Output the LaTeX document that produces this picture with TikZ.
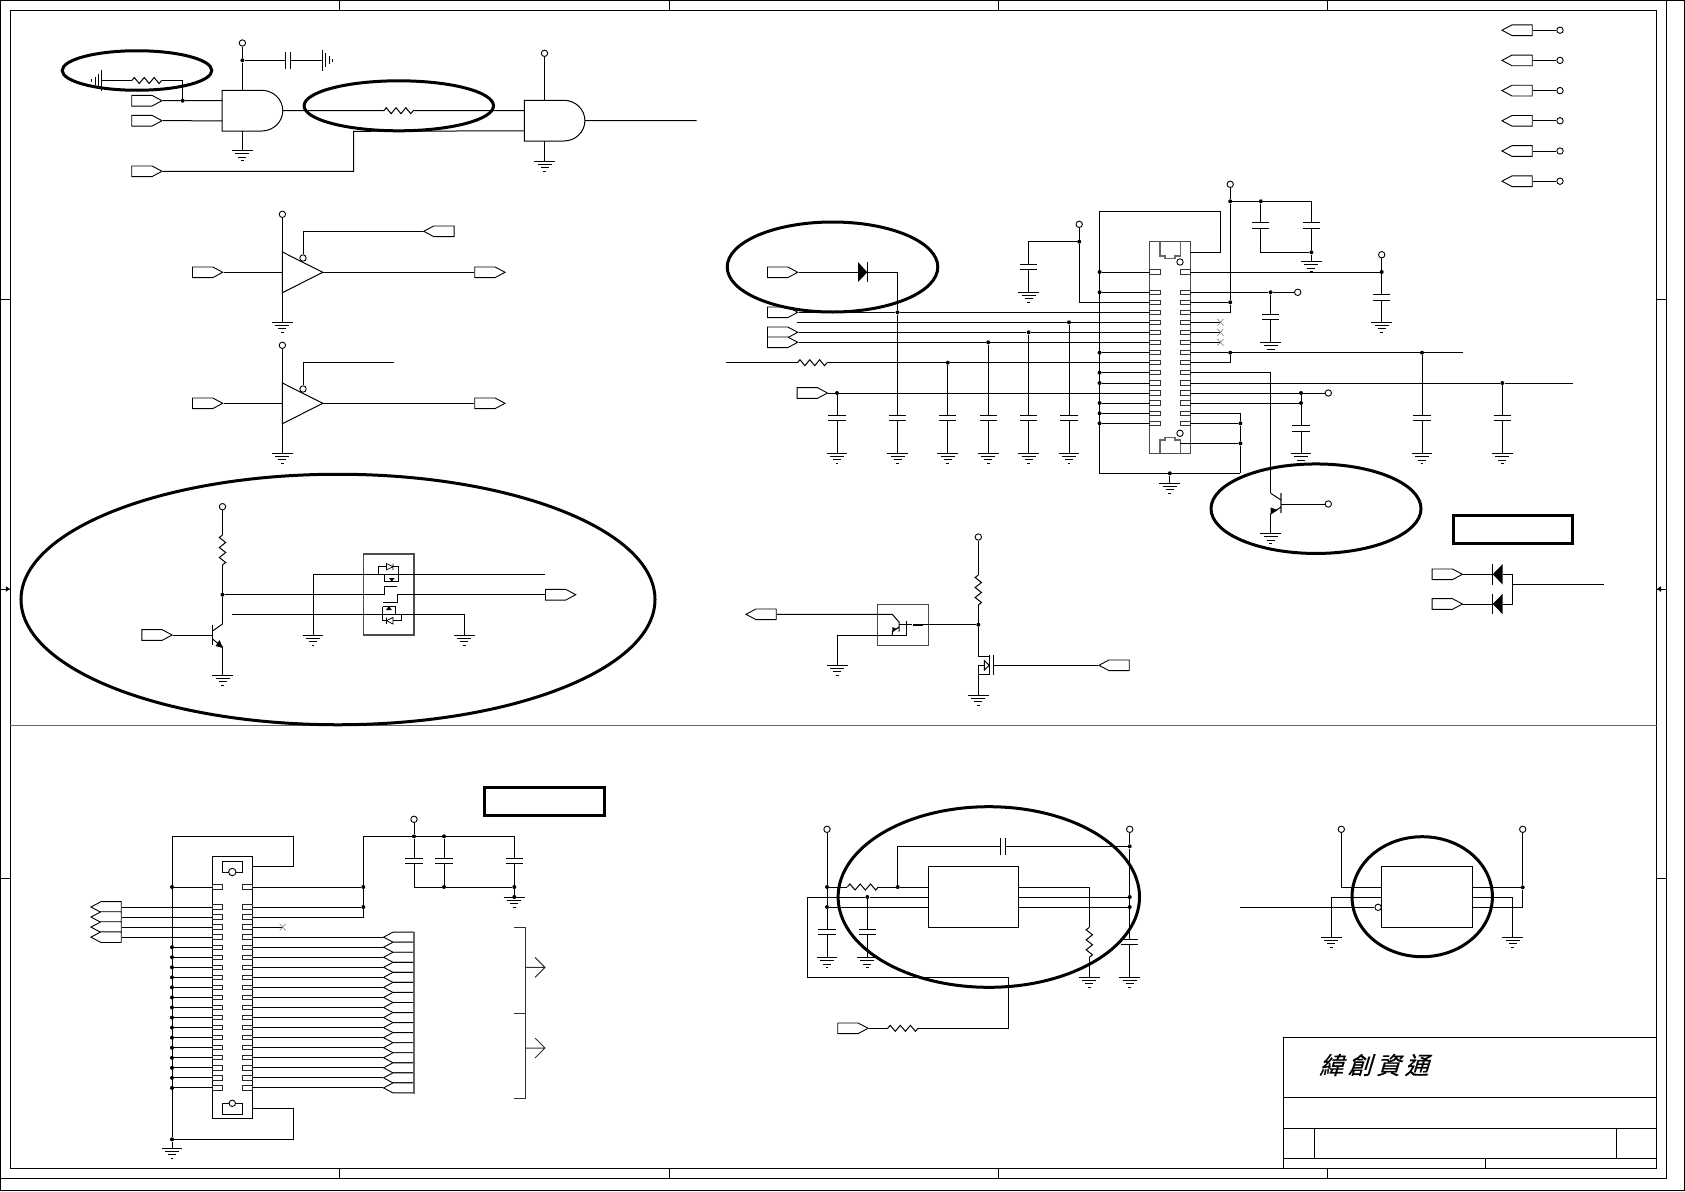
\documentclass[tikz,border=0pt]{standalone}
\usepackage{fontspec}
\newfontfamily\cjkfont[FakeSlant=0.3,FakeBold=0.5]{Noto Sans CJK TC}
\usetikzlibrary{calc,shapes.symbols,shapes.geometric}
\tikzset{
  wire/.style={line width=1pt,black,line join=miter},
  grayw/.style={line width=1.1pt,black!60},
  ring/.style={draw,ellipse,line width=3pt,inner sep=0pt,black},
  heavybox/.style={draw,line width=3pt,inner sep=0pt,black},
  plainbox/.style={draw,line width=1pt,inner sep=0pt,black},
  graybox/.style={draw,line width=1.1pt,inner sep=0pt,black!70},
  jdot/.style={circle,fill=black,inner sep=0pt,minimum size=4pt},
  vcc/.style={circle,draw,line width=0.9pt,fill=white,inner sep=0pt,minimum size=6.4pt},
  portr/.style={signal,signal to=east,signal from=nowhere,draw,line width=0.9pt,fill=white,
     minimum width=30.3pt,minimum height=10.7pt,inner sep=0pt,signal pointer angle=56,anchor=west},
  portl/.style={signal,signal to=west,signal from=nowhere,draw,line width=0.9pt,fill=white,
     minimum width=30.3pt,minimum height=10.7pt,inner sep=0pt,signal pointer angle=56,anchor=east},
}
% symbols
\newcommand{\sGnd}[3]{\coordinate (#1) at (#2,#3);
  \begin{scope}[shift={(#2,#3)}]\draw[wire] (-10.4,0)--(10.4,0) (-7,3)--(7,3) (-4,6.5)--(4,6.5) (-1.4,10)--(1.4,10);\end{scope}}
\newcommand{\sGndSide}[3]{\coordinate (#1) at (#2,#3);
  \begin{scope}[shift={(#2,#3)}]\draw[wire] (0,-10.4)--(0,10.4);\draw[line width=0.8pt] (#1e,-7)--(#1e,7);\end{scope}}
\newcommand{\sCapV}[4]{\coordinate (#1-t) at (#2,#3);\coordinate (#1-b) at (#2,#4);
  \draw[wire] (#2-8.6,#3)--(#2+8.6,#3) (#2-8.6,#4)--(#2+8.6,#4);}
\newcommand{\sResCore}[7]{\coordinate (#1-a) at (#2,#3);\coordinate (#1-b) at (#4,#5);
  \draw[wire] (#1-a) -- ($(#1-a)!1/12!(#1-b)+(-#6,-#7)$) -- ($(#1-a)!3/12!(#1-b)+(#6,#7)$)
   -- ($(#1-a)!5/12!(#1-b)+(-#6,-#7)$) -- ($(#1-a)!7/12!(#1-b)+(#6,#7)$)
   -- ($(#1-a)!9/12!(#1-b)+(-#6,-#7)$) -- ($(#1-a)!11/12!(#1-b)+(#6,#7)$) -- (#1-b);}
\newcommand{\sResH}[4]{\sResCore{#1}{#2}{#4}{#3}{#4}{0}{3}}
\newcommand{\sResV}[4]{\sResCore{#1}{#2}{#3}{#2}{#4}{3.2}{0}}
\newcommand{\sAnd}[3]{% name, left x, top y
  \coordinate (#1-a) at (#2,#3+10.3);\coordinate (#1-b) at (#2,#3+30.5);
  \coordinate (#1-y) at (#2+60.6,#3+20.35);\coordinate (#1-t) at (#2+20.2,#3);\coordinate (#1-g) at (#2+20.2,#3+40.7);
  \draw[wire] (#2+39.5,#3) -- (#2,#3) -- (#2,#3+40.7) -- (#2+39.5,#3+40.7)
    arc[start angle=-90,end angle=90,x radius=21.1,y radius=-20.35];}
\newcommand{\sBuf}[3]{% name, left x, mid y
  \coordinate (#1-a) at (#2,#3);\coordinate (#1-y) at (#2+40.4,#3);
  \coordinate (#1-t) at (#2,#3-20.3);\coordinate (#1-g) at (#2,#3+20.4);
  \draw[wire] (#2,#3-20.3) -- (#2+40.4,#3) -- (#2,#3+20.4) -- cycle;}
\newcommand{\sX}[2]{\draw[line width=0.6pt,black!50] (#1-3,#2-3.3)--(#1+3,#2+3.3) (#1-3,#2+3.3)--(#1+3,#2-3.3);}
\begin{document}
\begin{tikzpicture}[x=1pt,y=-1pt]
\useasboundingbox (0,0) rectangle (1685,1191);
% sheet frame
\draw[wire] (0.4,0.4) rectangle (1684.6,1190.6);
\draw[wire] (0.4,0.4) -- (1666.7,0.4) -- (1666.7,1178.3) -- (0.4,1178.3);
\node[plainbox,minimum width=1646.7pt,minimum height=1158.3pt] (sheet) at (833.35,589.15) {};
\foreach \n/\tx in {a/339.5,b/669.5,c/998.3,d/1327.5}{
  \draw[wire] (\tx,0) -- (\tx,10) (\tx,1168.3) -- (\tx,1178.3);}
\foreach \ty in {299.5,878.2}{
  \draw[wire] (0,\ty) -- (10,\ty) (1656.7,\ty) -- (1666.7,\ty);}
\draw[wire] (0,589) -- (10,589) (1656.7,589) -- (1666.7,589);
\fill (9.8,589) -- (5.8,586.2) -- (5.8,591.8) -- cycle;
\fill (1657,589) -- (1661,586.2) -- (1661,591.8) -- cycle;
\draw[line width=0.9pt,black!60] (10,725.3) -- (1656.7,725.3);
% title block
\draw[wire] (1283.3,1168.3) -- (1283.3,1037.3) -- (1656.7,1037.3)
  (1283.3,1097.3) -- (1656.7,1097.3) (1283.3,1128.3) -- (1656.7,1128.3) (1283.3,1158.3) -- (1656.7,1158.3)
  (1314.3,1128.3) -- (1314.3,1158.3) (1616.7,1128.3) -- (1616.7,1158.3) (1485.7,1158.3) -- (1485.7,1168.3);
\node[anchor=west,inner sep=0pt] (title) at (1319,1065) {\cjkfont\fontsize{24}{24}\selectfont 緯\hspace{4.5pt}創\hspace{4.5pt}資\hspace{4.5pt}通};

% ===== AND gates =====
\node[portr] (pa1) at (131.3,100.7) {};
\node[portr] (pa2) at (131.3,120.7) {};
\node[portr] (pa3) at (131.3,171.3) {};
\sAnd{ua}{222.2}{90.3}
\sAnd{ub}{524.3}{100.3}
\node[vcc] (va) at (242.4,43) {};
\node[vcc] (vb) at (544.5,53.3) {};
\node[jdot] (ja) at (242.4,60.3) {};
\node[jdot] (jb) at (182.7,100.7) {};
\coordinate (ca1) at (285,60.3);\coordinate (ca2) at (290.6,60.3);
\draw[wire] (285,52) -- (285,69) (290.6,52) -- (290.6,69);
\coordinate (ge1) at (322.8,60.3);
\draw[wire] (322.8,50) -- (322.8,70.7) (325.8,53.3) -- (325.8,67.3) (329.3,56.3) -- (329.3,64.3) (332.8,58.9) -- (332.8,61.7);
\coordinate (ge2) at (101.5,80.5);
\draw[wire] (101.5,70.2) -- (101.5,90.8) (98.5,73.5) -- (98.5,87.5) (95,76.5) -- (95,84.5) (91.5,79.1) -- (91.5,81.9);
\sResH{ra}{131.8}{161.6}{80.5}
\sResH{rb}{383.8}{413.2}{110.7}
\sGnd{ga}{242.4}{150.7}
\sGnd{gb}{544.5}{161}
\draw[wire] (va) -- (ja) -- (ua-t) (ua-g) -- (ga);
\draw[wire] (ja) -- (ca1) (ca2) -- (ge1);
\draw[wire] (ge2) -- (ra-a) (ra-b) -| (jb);
\draw[wire] (pa1.east) -- (jb) -- (ua-a);
\draw[wire] (pa2.east) -- (ua-b);
\draw[wire] (ua-y) -- (rb-a) (rb-b) -- (ub-a);
\coordinate (nb) at (353.5,131.3);
\draw[wire] (pa3.east) -| (nb) -- (ub-b);
\draw[wire] (vb) -- (ub-t) (ub-g) -- (gb);
\coordinate (ubout) at (696.5,120.7);
\draw[wire] (ub-y) -- (ubout);

% ===== buffers =====
\foreach \n/\dy in {c/0,d/131}{
  \sBuf{u\n}{282.4}{272.3+\dy}
  \node[vcc] (v\n) at (282.4,214.3+\dy) {};
  \sGnd{g\n}{282.4}{322+\dy}
  \node[portr] (pi\n) at (192,272.3+\dy) {};
  \node[portr] (po\n) at (474.3,272.3+\dy) {};
  \node[vcc] (e\n) at (303,258+\dy) {};
  \draw[wire] (v\n) -- (u\n-t) (u\n-g) -- (g\n) (pi\n.east) -- (u\n-a) (u\n-y) -- (po\n.west);
}
\node[portl] (pen) at (454.5,231.3) {};
\draw[wire] (ec) |- (pen.west);
\coordinate (end) at (394,362.3);
\draw[wire] (ed) |- (end);

% ===== MOS pair =====
\node[vcc] (vf) at (222.5,506.7) {};
\sResV{rf}{222.5}{535}{565}
\node[jdot] (jf) at (222.5,594.7) {};
\node[portr] (pf) at (141.4,635) {};
\node[portr] (pg) at (545,594.7) {};
\node[graybox,minimum width=50.6pt,minimum height=81pt] (mb) at (388.7,594.5) {};
\coordinate (qb) at (212.5,635);
\draw[wire] (212.5,624.7) -- (212.5,645);
\coordinate (qc) at (222.5,624);\coordinate (qe) at (222.5,647);
\draw[wire] (212.5,631) -- (qc) (212.5,639) -- (qe);
\fill (223,648) -- (215.5,646) -- (219.5,640) -- cycle;
\sGnd{gf}{222.5}{675.3}
\draw[wire] (vf) -- (rf-a) (rf-b) -- (jf) -- (qc) (qe) -- (gf) (pf.east) -- (qb);
\coordinate (sa) at (384.6,594.7);\coordinate (sb) at (384.6,586.7);\coordinate (sc) at (396.8,586.7);
\draw[wire] (jf) -- (sa) -- (sb) -- (sc);
\coordinate (sd) at (382.5,602.3);\coordinate (se) at (397.7,602.3);\coordinate (sf) at (397.7,594.7);
\draw[wire] (sd) -- (se) -- (sf) -- (pg.west);
\sGnd{gm1}{313}{635}
\sGnd{gm2}{464.4}{635}
\coordinate (mu) at (545,574.3);
\coordinate (ml) at (232.4,614.3);
\draw[wire] (gm1) |- (mu);
\draw[wire] (ml) -| (gm2);
% upper FET
\draw[wire] (378.6,574.3) -- (378.6,566) -- (386.4,566) (393,566) -- (398,566) -- (398,574.3);
\draw[line width=0.7pt] (386.4,563.5) -- (386.4,570) -- (393,566.7) -- cycle (393,563.5) -- (393,570);
\draw[wire] (384.6,574.3) -- (384.6,581.7) -- (398.5,581.7) -- (398.5,574.3);
\fill (389,578) -- (394.6,578) -- (391.8,581.7) -- cycle;
% lower FET
\draw[wire] (382.5,606.7) -- (396,606.7) (382.5,606.7) -- (382.5,620.7) -- (386,620.7) (393,620.7) -- (401,620.7) -- (401,614.3);
\draw[line width=0.7pt] (393,617.5) -- (393,624) -- (386.5,620.7) -- cycle (386.5,617.5) -- (386.5,624);
\fill (386,610) -- (391.8,610) -- (388.9,606) -- cycle;
\draw[wire] (395,606.7) -- (395,614.3);

% ===== IC1 =====
\node[graybox,minimum width=40.4pt,minimum height=212pt] (ic) at (1170,347.3) {};
\foreach \i/\yy in {0/272,1/292.3,2/302.3,3/312.3,4/322.3,5/332.3,6/342.3,7/352.7,8/362.7,9/372.7,10/383,11/393,12/403,13/413.3,14/423.3}{
  \coordinate (A\i) at (1149.8,\yy);\coordinate (B\i) at (1190.2,\yy);
  \draw[line width=1pt,black!80] (1149.8,\yy-2.2) rectangle (1160,\yy+2.2) (1180,\yy-2.2) rectangle (1190.2,\yy+2.2);
}
\draw[grayw] (1160,241.3) -- (1160,256) -- (1165,256) -- (1165,258.5) -- (1175,258.5) -- (1175,256) -- (1180.4,256) -- (1180.4,241.3);
\draw[grayw] (1160,453.3) -- (1160,440) -- (1165,440) -- (1165,437.7) -- (1175,437.7) -- (1175,440) -- (1180.4,440) -- (1180.4,453.3);
\node[vcc] (m1) at (1180,262) {};
\node[vcc] (m2) at (1180,433.3) {};
\coordinate (busT) at (1099.6,211.3);
\coordinate (busTR) at (1220.4,211.3);
\coordinate (busB) at (1099.6,473.3);
\coordinate (busBR) at (1240.4,473.3);
\coordinate (mt) at (1190.2,252.3);
\draw[wire] (mt) -| (busTR) -- (busT) -- (busB) -- (busBR);
\foreach \i/\yy in {0/272,1/292.3,7/352.7,9/372.7,10/383,12/403,13/413.3,14/423.3}{
  \node[jdot] (LJ\i) at (1099.6,\yy) {};
  \draw[wire] (LJ\i) -- (A\i);
}
% left side, row 2 and VCC cap
\node[vcc] (v1) at (1079.2,224.3) {};
\node[jdot] (j1) at (1079.2,241.7) {};
\sCapV{c1}{1028.6}{264.3}{269.3}
\sGnd{g1}{1028.6}{292.3}
\coordinate (r2) at (1079.2,302.3);
\draw[wire] (v1) -- (j1) -- (r2) -- (A2);
\draw[wire] (j1) -| (c1-t) (c1-b) -- (g1);
% ports and rows
\node[portr] (p3) at (767,272.3) {};
\node[portr] (p5) at (767,312.3) {};
\node[portr] (p6) at (767,332.3) {};
\node[portr] (p7) at (767,342.3) {};
\node[portr] (p8) at (796.7,393) {};
\coordinate (wst) at (796.7,322.3);
\coordinate (wst2) at (726,362.7);
\sResH{r1}{797.5}{827}{362.7}
\node[jdot] (d1) at (897.5,312.3) {};
\node[jdot] (d2) at (1069,322.3) {};
\node[jdot] (d3) at (1028.6,332.3) {};
\node[jdot] (d4) at (988.2,342.3) {};
\node[jdot] (d5) at (947.8,362.7) {};
\node[jdot] (d6) at (837,393) {};
\draw[wire] (p5.east) -- (d1) -- (A3);
\draw[wire] (wst) -- (d2) -- (A4);
\draw[wire] (p6.east) -- (d3) -- (A5);
\draw[wire] (p7.east) -- (d4) -- (A6);
\draw[wire] (wst2) -- (r1-a) (r1-b) -- (d5) -- (A8);
\draw[wire] (p8.east) -- (d6) -- (A11);
% diode
\coordinate (dk) at (867.3,272.3);\coordinate (da) at (858,272.3);
\fill (858,262) -- (858,282) -- (867.3,272.3) -- cycle;
\draw[wire] (867.3,262) -- (867.3,282);
\coordinate (dt) at (897.5,272.3);
\draw[wire] (p3.east) -- (da) (dk) -- (dt) -- (d1);
% bottom caps
\foreach \n/\src/\cx in {a/d6/837,c/d2/1069,d/d3/1028.6,e/d4/988.2,f/d5/947.8,b/d1/897.5}{
  \sCapV{cb\n}{\cx}{415}{420.7}
  \sGnd{gb\n}{\cx}{453.3}
  \draw[wire] (\src) -- (cb\n-t) (cb\n-b) -- (gb\n);
}
% bottom ground of IC
\node[jdot] (j2) at (1169.8,473.3) {};
\sGnd{g2}{1169.8}{483.3}
\draw[wire] (j2) -- (g2);
% right side
\node[vcc] (v2) at (1230.2,184.3) {};
\node[jdot] (j3) at (1230.2,201.3) {};
\node[jdot] (j4) at (1260.8,201.3) {};
\coordinate (j5) at (1311.4,201.3);
\node[jdot] (j6) at (1230.2,302.3) {};
\coordinate (j7) at (1230.2,312.3);
\sCapV{c2}{1260.8}{222.7}{228.7}
\sCapV{c3}{1311.4}{222.7}{228.7}
\node[jdot] (j8) at (1311.4,252.3) {};
\sGnd{g3}{1311.4}{261.7}
\draw[wire] (v2) -- (j3) -- (j6) -- (j7) -- (B3);
\draw[wire] (B2) -- (j6);
\draw[wire] (j3) -- (j4) -- (j5) -- (c3-t) (c3-b) -- (j8) -- (g3);
\draw[wire] (j4) -- (c2-t) (c2-b) |- (j8);
% row 0
\node[vcc] (v3) at (1381.7,254.7) {};
\node[jdot] (j9) at (1381.7,272) {};
\sCapV{c4}{1381.7}{294}{300}
\sGnd{g4}{1381.7}{322.4}
\draw[wire] (B0) -- (j9);
\draw[wire] (v3) -- (j9) -- (c4-t) (c4-b) -- (g4);
% row 1
\node[vcc] (v4) at (1297.7,292.3) {};
\node[jdot] (j10) at (1270.6,292.3) {};
\sCapV{c5}{1270.6}{314.3}{319.7}
\sGnd{g5}{1270.6}{342.7}
\draw[wire] (B1) -- (j10) -- (v4);
\draw[wire] (j10) -- (c5-t) (c5-b) -- (g5);
% NC
\foreach \i/\yy in {4/322.3,5/332.3,6/342.3}{
  \coordinate (nc\i) at (1220.4,\yy);
  \draw[wire] (B\i) -- (nc\i);
  \sX{1220.4}{\yy}
}
% row 7,8
\node[jdot] (j11) at (1230.2,352.7) {};
\node[jdot] (j12) at (1422,352.7) {};
\coordinate (r7e) at (1462.7,352.7);
\coordinate (r8c) at (1230.2,362.7);
\sCapV{c6}{1422}{415.5}{420.4}
\sGnd{g6}{1422}{453.9}
\draw[wire] (B7) -- (j11) -- (j12) -- (r7e);
\draw[wire] (B8) -- (r8c) -- (j11);
\draw[wire] (j12) -- (c6-t) (c6-b) -- (g6);
% row 9 transistor
\coordinate (tc) at (1270.7,493.3);
\coordinate (te) at (1270.7,514);
\draw[wire] (B9) -| (tc);
\draw[grayw] (1281,493.3) -- (1281,513.3);
\draw[wire] (tc) -- (1281,500) (1281,507) -- (te);
\fill (1270.7,514.5) -- (1270.7,507.5) -- (1277.5,510) -- cycle;
\sGnd{g7}{1270.7}{533.5}
\draw[wire] (te) -- (g7);
\node[vcc] (v5) at (1328.3,504) {};
\coordinate (tb) at (1281,504);
\draw[wire] (tb) -- (v5);
% row 10
\node[jdot] (j13) at (1502.3,383) {};
\coordinate (r10e) at (1573.3,383);
\sCapV{c7}{1502.3}{415.5}{420.4}
\sGnd{g8}{1502.3}{453.9}
\draw[wire] (B10) -- (j13) -- (r10e);
\draw[wire] (j13) -- (c7-t) (c7-b) -- (g8);
% rows 11,12
\node[vcc] (v6) at (1328.3,393) {};
\node[jdot] (j14) at (1301,393) {};
\node[jdot] (j15) at (1301,403) {};
\sCapV{c8}{1301}{425.7}{431}
\sGnd{g9}{1301}{453.7}
\draw[wire] (B11) -- (j14) -- (v6);
\draw[wire] (B12) -- (j15);
\draw[wire] (j14) -- (j15) -- (c8-t) (c8-b) -- (g9);
% rows 13,14, mount
\node[jdot] (j16) at (1240.4,423.3) {};
\node[jdot] (j17) at (1240.4,443.3) {};
\coordinate (r13c) at (1240.4,413.3);
\coordinate (mb2) at (1180,443.3);
\draw[wire] (B13) -- (r13c) -- (j16) -- (j17) -- (busBR);
\draw[wire] (B14) -- (j16);
\draw[wire] (mb2) -- (j17);

% ===== top-right ports =====
\foreach \n/\yy in {a/30.2,b/60.4,c/90.6,d/120.8,e/151,f/181.2}{
  \node[portl] (tp\n) at (1532.7,\yy) {};
  \node[vcc] (tv\n) at (1560,\yy) {};
  \draw[wire] (tp\n.east) -- (tv\n);
}
% ===== boxes =====
\node[heavybox,minimum width=119.5pt,minimum height=28pt] (bx1) at (1513.1,529.7) {};
\node[heavybox,minimum width=119.8pt,minimum height=28pt] (bx2) at (544.7,801.2) {};
% ===== twin diode =====
\node[portr] (q1) at (1431.7,574.3) {};
\node[portr] (q2) at (1431.7,604) {};
\foreach \n/\yy in {a/574.3,b/604}{
  \fill (1502.7,\yy-10.3) -- (1502.7,\yy+10.3) -- (1492.7,\yy) -- cycle;
  \draw[wire] (1492.7,\yy-10.3) -- (1492.7,\yy+10.3);
  \coordinate (dq\n) at (1492.7,\yy);
  \coordinate (dr\n) at (1502.7,\yy);
}
\coordinate (qr1) at (1512.7,574.3);\coordinate (qr2) at (1512.7,604);
\coordinate (qm) at (1512.7,584.5);\coordinate (qo) at (1604,584.5);
\draw[wire] (q1.east) -- (dqa) (q2.east) -- (dqb);
\draw[wire] (dra) -- (qr1) -- (qr2) -- (drb);
\draw[wire] (qm) -- (qo);

% ===== opto + MOS =====
\node[portl] (o1) at (776.7,614.3) {};
\node[graybox,minimum width=51pt,minimum height=41pt] (ob) at (902.8,624.8) {};
\coordinate (oc) at (892.3,614.3);
\draw[wire] (o1.east) -- (oc) -- (899,622);
\draw[wire] (899,621.7) -- (899,631.7) (899,627) -- (892.3,631.7) -- (892.3,635.7);
\fill (892.3,632) -- (892.3,627) -- (897,629) -- cycle;
\draw[wire] (906,620.7) -- (906,635.7);
\sGnd{go}{837.3}{665.3}
\draw[wire] (go) |- (906,635.7);
\node[vcc] (vo) at (978.3,537) {};
\sResV{ro}{978.3}{575}{605}
\node[jdot] (jo) at (978.3,624.7) {};
\coordinate (oq) at (899,624.7);
\draw[wire] (vo) -- (ro-a) (ro-b) -- (jo);
\draw[wire] (899,624.7) -- (912,624.7);
\draw[line width=1.8pt] (913,624.7) -- (923,624.7);
\draw[wire] (923,624.7) -- (jo);
\coordinate (mos1) at (978.3,656.7);\coordinate (mos2) at (989.3,656.7);
\coordinate (mos3) at (978.3,674);\coordinate (mos4) at (989.3,674);
\draw[wire] (jo) -- (mos1) -- (mos2) (989.3,655) -- (989.3,675) (993.7,655) -- (993.7,675);
\draw[wire] (mos4) -- (mos3);
\sGnd{gq}{978.3}{695}
\draw[wire] (mos3) -- (gq);
\draw[wire] (978.3,674) -- (978.3,665) -- (984.3,665);
\draw[wire] (984.3,660.7) -- (984.3,670) -- (989.3,665.3) -- cycle;
\node[portl] (o2) at (1129.7,665.3) {};
\coordinate (mg) at (993.7,665.3);
\draw[wire] (o2.west) -- (mg);

% ===== connector IC2 =====
\node[plainbox,minimum width=40pt,minimum height=262.4pt] (ic2) at (232.7,987.5) {};
\foreach \i in {0,...,19}{
  \pgfmathsetmacro{\yy}{\i==0?887:907+(\i-1)*10.05}
  \coordinate (L\i) at (212.7,\yy);\coordinate (R\i) at (252.7,\yy);
  \draw[line width=1pt,black!85] (212.7,\yy-2.2) rectangle (222.7,\yy+2.2) (242.7,\yy-2.2) rectangle (252.7,\yy+2.2);
}
\draw[wire] (222.3,872.3) -- (222.3,861.7) -- (242.7,861.7) -- (242.7,872.3) -- cycle;
\draw[wire] (222.3,1103.3) -- (222.3,1114) -- (242.7,1114) -- (242.7,1103.3) -- cycle;
\node[vcc,minimum size=7.4pt] (mc1) at (232.3,872) {};
\node[vcc] (mc2) at (232.3,1103.3) {};
\coordinate (bu2T) at (172,836.3);\coordinate (bu2TR) at (293.3,836.3);
\coordinate (mc3) at (252.7,866.3);
\coordinate (mc4) at (252.7,1108.3);
\coordinate (bu2BR) at (293.3,1139.3);
\node[jdot] (bj) at (172,1139.3) {};
\sGnd{gc}{172}{1148.3}
\draw[wire] (mc3) -| (bu2TR) -- (bu2T) -- (bj) -- (gc);
\draw[wire] (mc4) -| (bu2BR) -- (bj);
\foreach \i in {0,5,6,...,19}{
  \path let \p1=(L\i) in node[jdot] (LD\i) at (172,\y1) {};
  \draw[wire] (LD\i) -- (L\i);
}
\foreach \i in {1,...,4}{
  \path let \p1=(L\i) in node[portl] (LP\i) at (121.7,\y1) {};
  \draw[wire] (LP\i.east) -- (L\i);
}
\foreach \i in {4,...,19}{
  \path let \p1=(R\i) in node[portl,minimum width=30pt,minimum height=10pt] (RP\i) at (414,\y1) {};
  \draw[wire] (R\i) -- (RP\i.west);
}
\draw[grayw] (414,932) -- (414,1093.5);
% right nets
\node[vcc] (v7) at (414,819.3) {};
\node[jdot] (n1) at (414,836.3) {};
\node[jdot] (n2) at (444,836.3) {};
\coordinate (n3) at (514.3,836.3);
\coordinate (n4) at (363.3,836.3);
\node[jdot] (n5) at (363.3,887) {};
\node[jdot] (n6) at (363.3,907) {};
\coordinate (n7) at (363.3,917.05);
\draw[wire] (v7) -- (n1);
\draw[wire] (n4) -- (n1) -- (n2) -- (n3);
\draw[wire] (n4) -- (n5) -- (n6) -- (n7) -- (R2);
\draw[wire] (R0) -- (n5) (R1) -- (n6);
\coordinate (nx) at (282.7,927.1);
\draw[wire] (R3) -- (nx);
\sX{282.7}{927.1}
\foreach \n/\cx in {a/414,b/444,c/514.3}{\sCapV{ct\n}{\cx}{858.7}{863.3}}
\node[jdot] (n8) at (444,887) {};
\node[jdot] (n9) at (514.3,887) {};
\node[jdot] (n10) at (514.3,897) {};
\sGnd{gt}{514.3}{897}
\coordinate (n11) at (414,887);
\draw[wire] (n1) -- (cta-t) (cta-b) -- (n11) -- (n8) -- (n9);
\draw[wire] (n2) -- (ctb-t) (ctb-b) -- (n8);
\draw[wire] (n3) -- (ctc-t) (ctc-b) -- (n9) -- (n10);
% bracket
\coordinate (b1) at (514.3,927);\coordinate (b2) at (525,927);\coordinate (b3) at (525,1098.3);\coordinate (b4) at (514.3,1098.3);
\coordinate (b5) at (514.3,1013);\coordinate (b6) at (525,1013);
\draw[line width=1pt,black!80] (b1) -- (b2) -- (b3) -- (b4) (b5) -- (b6);
\coordinate (ar1) at (545,967.3);\coordinate (ar2) at (545,1048);
\coordinate (b7) at (525,967.3);\coordinate (b8) at (525,1048);
\draw[line width=1pt,black!80] (b7) -- (ar1) (535,957.3) -- (ar1) -- (535,977.3);
\draw[line width=1pt,black!80] (b8) -- (ar2) (535,1038) -- (ar2) -- (535,1058);

% ===== regulator =====
\node[plainbox,minimum width=90.4pt,minimum height=61pt] (u1) at (973.5,896.8) {};
\node[vcc] (v8) at (827,829.3) {};
\node[vcc] (v9) at (1129.7,829.3) {};
\node[jdot] (u2) at (827,887) {};
\node[jdot] (u3) at (827,907) {};
\coordinate (ur) at (928.3,887);
\sResH{r3}{847.3}{878.3}{887}
\node[jdot] (u4) at (897.7,887) {};
\coordinate (u5) at (897.7,846.3);
\coordinate (cf1) at (1000.7,846.3);\coordinate (cf2) at (1005.3,846.3);
\draw[wire] (1000.7,838) -- (1000.7,854.6) (1005.3,838) -- (1005.3,854.6);
\node[jdot] (u6) at (1129.7,846.3) {};
\node[jdot] (u7) at (1129.7,897) {};
\node[jdot] (u8) at (1129.7,907) {};
\node[jdot] (u9) at (867.3,897) {};
\coordinate (ul2) at (928.3,897);\coordinate (ul3) at (928.3,907);
\coordinate (ur1) at (1018.7,887.3);\coordinate (ur2) at (1018.7,897);\coordinate (ur3) at (1018.7,907);
\sCapV{c9}{827}{929.3}{934.7}
\sGnd{g10}{827}{957.7}
\sCapV{c10}{867.3}{929.3}{934.7}
\sGnd{g11}{867.3}{957.7}
\sCapV{c11}{1129.7}{939.7}{944.3}
\sGnd{g12}{1129.7}{977.3}
\sResV{r4}{1089.3}{927.3}{957.3}
\sGnd{g13}{1089.3}{977.3}
\sResH{r5}{887.7}{918}{1028.3}
\node[portr] (p9) at (837.3,1028.3) {};
\draw[wire] (v8) -- (u2) -- (u3) -- (c9-t) (c9-b) -- (g10);
\draw[wire] (u2) -- (r3-a) (r3-b) -- (u4) -- (ur);
\draw[wire] (u3) -- (ul3);
\draw[wire] (u4) -- (u5) -- (cf1) (cf2) -- (u6);
\draw[wire] (v9) -- (u6) -- (u7) -- (u8) -- (c11-t) (c11-b) -- (g12);
\draw[wire] (ur2) -- (u7) (ur3) -- (u8);
\coordinate (ur4) at (1089.3,887.3);
\draw[wire] (ur1) -- (ur4) -- (r4-a) (r4-b) -- (g13);
\coordinate (l1) at (807.3,897);\coordinate (l2) at (807.3,977.3);\coordinate (l3) at (1008.3,977.3);\coordinate (l4) at (1008.3,1028.3);
\draw[wire] (ul2) -- (u9) -- (l1) -- (l2) -- (l3) -- (l4) -- (r5-b) (r5-a) -- (p9.east);
\draw[wire] (u9) -- (c10-t) (c10-b) -- (g11);

% ===== U right =====
\node[plainbox,minimum width=91.4pt,minimum height=61pt] (u10) at (1427,896.8) {};
\node[vcc] (v10) at (1341.3,829.3) {};
\node[vcc] (v11) at (1522.7,829.3) {};
\coordinate (w1) at (1381.3,887.3);\coordinate (w2) at (1381.3,897.3);
\coordinate (w3) at (1240,907.3);\node[vcc] (w4) at (1378.1,907.3) {};
\sGnd{g14}{1331.3}{937}
\sGnd{g15}{1512.7}{937}
\node[jdot] (w5) at (1522.7,887.3) {};
\coordinate (w6) at (1522.7,907.3);
\coordinate (w7) at (1472.7,887.3);\coordinate (w8) at (1472.7,897.3);\coordinate (w9) at (1472.7,907.3);
\draw[wire] (v10) |- (w1);
\draw[wire] (g14) |- (w2);
\draw[wire] (w3) -- (w4);
\draw[wire] (v11) -- (w5) -- (w6) -- (w9);
\draw[wire] (w7) -- (w5);
\draw[wire] (w8) -| (g15);

% ===== highlight rings =====
\node[ring,minimum width=149.6pt,minimum height=39.5pt] (e1) at (137,70.5) {};
\node[ring,minimum width=189.4pt,minimum height=50pt] (e2) at (398.8,105.8) {};
\node[ring,minimum width=634pt,minimum height=250.5pt] (e3) at (338,599.5) {};
\node[ring,minimum width=210.6pt,minimum height=90pt] (e4) at (832.5,267) {};
\node[ring,minimum width=210pt,minimum height=89.5pt] (e5) at (1316,508.7) {};
\node[ring,minimum width=301.4pt,minimum height=180.6pt] (e6) at (988.8,897) {};
\node[ring,minimum width=140.4pt,minimum height=120pt] (e7) at (1422.2,896.7) {};
\end{tikzpicture}
\end{document}
